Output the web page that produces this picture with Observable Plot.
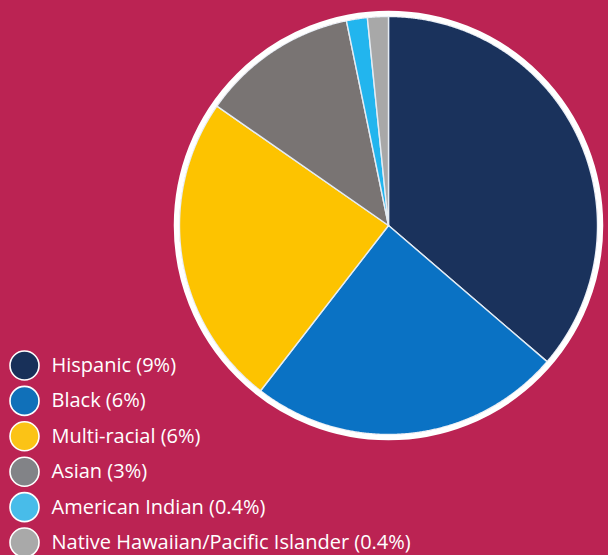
<!DOCTYPE html>
<html>
<head>
<meta charset="utf-8">
<script src="https://cdn.jsdelivr.net/npm/d3@7"></script>
<script src="https://cdn.jsdelivr.net/npm/@observablehq/plot@0.6"></script>
<style>
  html, body { margin: 0; padding: 0; background: #bb2353; }
  #chart { width: 608px; height: 555px; overflow: hidden; }
</style>
</head>
<body>
<div id="chart"></div>
<script>
const categories = ["Hispanic", "Black", "Multi-racial", "Asian", "American Indian", "Native Hawaiian/Pacific Islander"];
const values = [9, 6, 6, 3, 0.4, 0.4];
const valueLabels = ["9%", "6%", "6%", "3%", "0.4%", "0.4%"];
const sliceColors = ["#1a325c", "#0a72c4", "#fdc300", "#797473", "#22b5ee", "#a8a8a8"];
const legendColors = ["#183059", "#1070b9", "#fbc316", "#828387", "#48bce9", "#a9a9a9"];

const R = 209;       // slice radius (px)
const ringR = 212;   // white ring radius
const arcs = d3.pie().sort(null)(values);

const slicePts = [];
arcs.forEach((a, i) => {
  const n = Math.max(2, Math.ceil((a.endAngle - a.startAngle) / 0.005));
  slicePts.push({cat: categories[i], x: 0, y: 0});
  for (let k = 0; k <= n; k++) {
    const t = a.startAngle + (a.endAngle - a.startAngle) * k / n;
    slicePts.push({cat: categories[i], x: R * Math.sin(t), y: -R * Math.cos(t)});
  }
  slicePts.push({cat: categories[i], x: 0, y: 0});
});

const legend = categories.map((c, i) => ({
  cat: c,
  label: `${c} (${valueLabels[i]})`,
  color: legendColors[i],
  row: i
}));
const legX = -364, legTextX = -337, legY0 = 140, legStep = 35.4;

const chart = Plot.plot({
  width: 608,
  height: 555,
  margin: 0,
  style: {background: "#bb2353", fontFamily: "'Open Sans', sans-serif"},
  x: {domain: [-388, 220], range: [0, 608], axis: null},
  y: {domain: [-225, 330], range: [0, 555], axis: null},
  color: {domain: categories, range: sliceColors},
  marks: [
    Plot.line(slicePts, {x: "x", y: "y", z: "cat", fill: "cat", stroke: "#e4ecf4", strokeWidth: 1.4, strokeLinejoin: "round", curve: "linear"}),
    Plot.dot([{x: 0, y: 0}], {x: "x", y: "y", r: ringR, stroke: "white", strokeWidth: 5.5, fill: "none"}),
    Plot.dot(legend, {x: () => legX, y: d => legY0 + d.row * legStep, r: 14.5, fill: d => d.color, stroke: "white", strokeWidth: 1.6}),
    Plot.text(legend, {x: () => legTextX, y: d => legY0 + d.row * legStep, text: "label", textAnchor: "start", fill: "white", fontSize: 20, dy: 0})
  ]
});
document.getElementById("chart").appendChild(chart);
</script>
</body>
</html>
